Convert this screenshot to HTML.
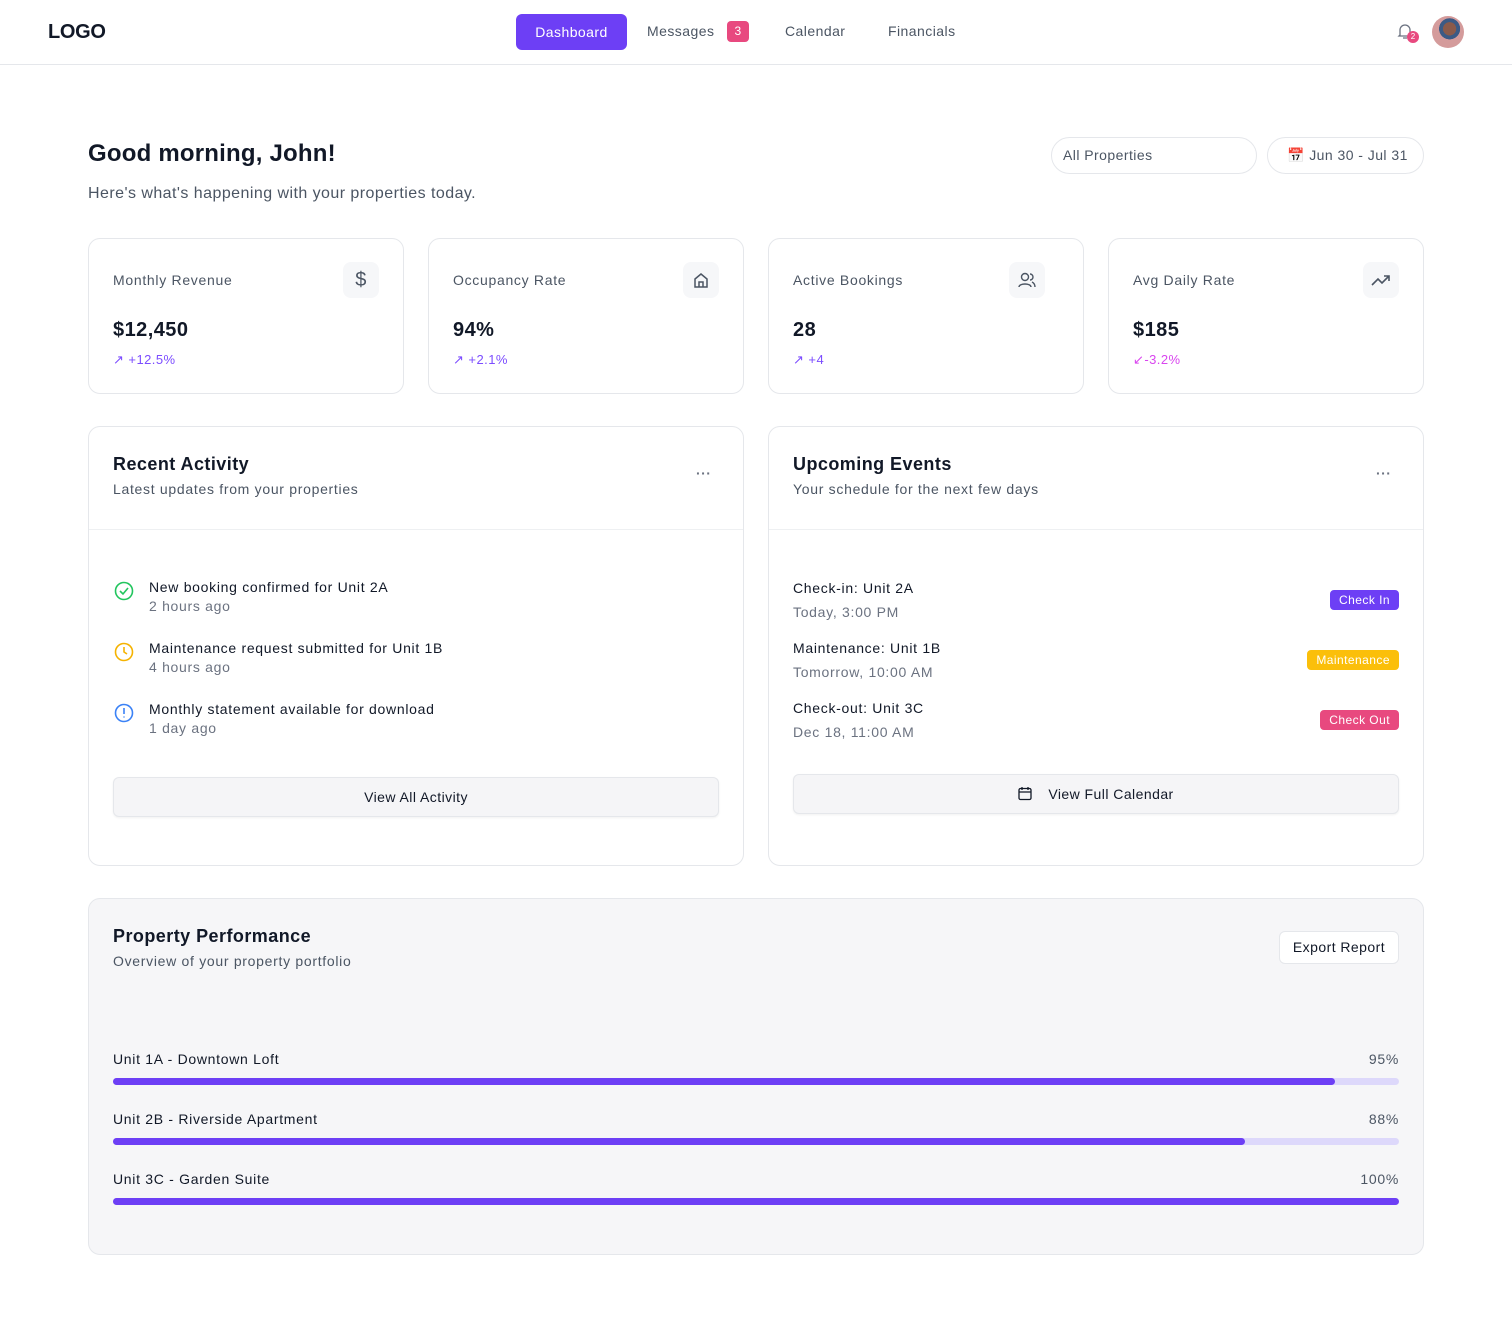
<!DOCTYPE html>
<html><head><meta charset="utf-8"><style>
*{box-sizing:border-box;margin:0;padding:0}
body{width:1512px;height:1335px;background:#fff;font-family:"Liberation Sans",sans-serif;color:#111827;position:relative;overflow:hidden;letter-spacing:0.45px}
.a{position:absolute}
.card{position:absolute;border:1px solid #e5e7eb;border-radius:12px;background:#fff}
.t14{font-size:14px;letter-spacing:0.7px}
.muted{color:#6b7280}
.ib{position:absolute;width:36px;height:36px;border-radius:8px;background:#f6f7f9;display:flex;align-items:center;justify-content:center}
.badge{position:absolute;height:20px;border-radius:4px;color:#fff;font-size:12px;line-height:20px;padding:0 9px;right:24px}
.btn{position:absolute;background:#f5f5f7;border:1px solid #e5e7eb;border-radius:6px;font-size:14px;text-align:center;box-shadow:0 1px 2px rgba(0,0,0,.06)}
</style></head><body>
<div class="a" style="left:0;top:0;width:1512px;height:65px;border-bottom:1px solid #e5e7eb"></div>
<div class="a" style="left:48px;top:21px;font-size:20px;font-weight:bold;letter-spacing:-0.3px">LOGO</div>
<div class="a" style="left:516px;top:14px;width:111px;height:36px;background:#6d3ff5;border-radius:6px;color:#fff;font-size:14px;line-height:36px;text-align:center">Dashboard</div>
<div class="a" style="left:647px;top:23px;font-size:14px;color:#4b5563">Messages</div>
<div class="a" style="left:727px;top:21px;width:22px;height:21px;background:#e8497f;border-radius:4px;color:#fff;font-size:12px;line-height:21px;text-align:center">3</div>
<div class="a" style="left:785px;top:23px;font-size:14px;color:#4b5563">Calendar</div>
<div class="a" style="left:888px;top:23px;font-size:14px;color:#4b5563">Financials</div>
<svg class="a" style="left:1397px;top:23px" width="16" height="18" viewBox="0 0 16 18"><path d="M3 12V7a5 5 0 0 1 10 0v5l1 1H2z M6 15h4" fill="none" stroke="#6b7280" stroke-width="1.3"/></svg>
<div class="a" style="left:1407px;top:31px;width:12px;height:12px;border-radius:6px;background:#e8497f;color:#fff;font-size:8px;line-height:12px;text-align:center;letter-spacing:0">2</div>
<div class="a" style="left:1432px;top:16px;width:32px;height:32px;border-radius:16px;background:radial-gradient(circle at 55% 40%,#8a5a4a 0 25%,#3b5a85 26% 40%,#d49b9b 41%)"></div>

<div class="a" style="left:88px;top:140px;font-size:24px;font-weight:bold;letter-spacing:0.2px">Good morning, John!</div>
<div class="a" style="left:88px;top:185px;font-size:16px;color:#4b5563">Here's what's happening with your properties today.</div>
<div class="a" style="left:1051px;top:137px;width:206px;height:37px;border:1px solid #e5e7eb;border-radius:19px;font-size:14px;color:#4b5563;line-height:35px;padding-left:11px">All Properties</div>
<div class="a" style="left:1267px;top:137px;width:157px;height:37px;border:1px solid #e5e7eb;border-radius:19px;font-size:14px;color:#4b5563;line-height:35px;padding-left:19px">📅 Jun 30 - Jul 31</div>

<div class="card" style="left:88px;top:238px;width:316px;height:156px">
 <div class="a t14" style="left:24px;top:33px;color:#4b5563">Monthly Revenue</div>
 <div class="ib" style="left:254px;top:23px;font-size:20px;color:#4b5563">$</div>
 <div class="a" style="left:24px;top:80px;font-size:20px;font-weight:bold">$12,450</div>
 <div class="a" style="left:24px;top:113px;font-size:13px;color:#7c4dff">↗ +12.5%</div>
</div>
<div class="card" style="left:428px;top:238px;width:316px;height:156px">
 <div class="a t14" style="left:24px;top:33px;color:#4b5563">Occupancy Rate</div>
 <div class="ib" style="left:254px;top:23px"><svg width="18" height="18" viewBox="0 0 18 18"><path d="M3 8l6-5 6 5v8H3z M7 16v-5h4v5" fill="none" stroke="#4b5563" stroke-width="1.5"/></svg></div>
 <div class="a" style="left:24px;top:80px;font-size:20px;font-weight:bold">94%</div>
 <div class="a" style="left:24px;top:113px;font-size:13px;color:#7c4dff">↗ +2.1%</div>
</div>
<div class="card" style="left:768px;top:238px;width:316px;height:156px">
 <div class="a t14" style="left:24px;top:33px;color:#4b5563">Active Bookings</div>
 <div class="ib" style="left:240px;top:23px"><svg width="20" height="18" viewBox="0 0 20 18"><circle cx="8" cy="6" r="3.5" fill="none" stroke="#4b5563" stroke-width="1.4"/><path d="M2 16c0-4 12-4 12 0M13 3a3 3 0 0 1 0 6M15 11c2 1 3 3 3 5" fill="none" stroke="#4b5563" stroke-width="1.4"/></svg></div>
 <div class="a" style="left:24px;top:80px;font-size:20px;font-weight:bold">28</div>
 <div class="a" style="left:24px;top:113px;font-size:13px;color:#7c4dff">↗ +4</div>
</div>
<div class="card" style="left:1108px;top:238px;width:316px;height:156px">
 <div class="a t14" style="left:24px;top:33px;color:#4b5563">Avg Daily Rate</div>
 <div class="ib" style="left:254px;top:23px"><svg width="20" height="14" viewBox="0 0 20 14"><path d="M1 12l6-6 4 4 7-7M13 3h5v5" fill="none" stroke="#4b5563" stroke-width="1.6"/></svg></div>
 <div class="a" style="left:24px;top:80px;font-size:20px;font-weight:bold">$185</div>
 <div class="a" style="left:24px;top:113px;font-size:13px;color:#d946ef">↙-3.2%</div>
</div>

<div class="card" style="left:88px;top:426px;width:656px;height:440px">
 <div class="a" style="left:24px;top:27px;font-size:18px;font-weight:bold">Recent Activity</div>
 <div class="a t14" style="left:24px;top:54px;color:#4b5563">Latest updates from your properties</div>
 <div class="a" style="left:607px;top:38px;color:#6b7280;font-size:14px;font-weight:bold">···</div>
 <div class="a" style="left:0;top:102px;width:654px;border-top:1px solid #eef0f2"></div>
 <svg class="a" style="left:25px;top:154px" width="20" height="20"><circle cx="10" cy="10" r="8.5" fill="none" stroke="#22c55e" stroke-width="1.6"/><path d="M6 10l3 3 5-6" fill="none" stroke="#22c55e" stroke-width="1.6"/></svg>
 <div class="a t14" style="left:60px;top:152px">New booking confirmed for Unit 2A</div>
 <div class="a t14 muted" style="left:60px;top:171px">2 hours ago</div>
 <svg class="a" style="left:25px;top:215px" width="20" height="20"><circle cx="10" cy="10" r="8.5" fill="none" stroke="#f5b301" stroke-width="1.6"/><path d="M10 5v5l3 2" fill="none" stroke="#f5b301" stroke-width="1.6"/></svg>
 <div class="a t14" style="left:60px;top:213px">Maintenance request submitted for Unit 1B</div>
 <div class="a t14 muted" style="left:60px;top:232px">4 hours ago</div>
 <svg class="a" style="left:25px;top:276px" width="20" height="20"><circle cx="10" cy="10" r="8.5" fill="none" stroke="#3b82f6" stroke-width="1.6"/><path d="M10 5v6M10 13.5v1" fill="none" stroke="#3b82f6" stroke-width="1.6"/></svg>
 <div class="a t14" style="left:60px;top:274px">Monthly statement available for download</div>
 <div class="a t14 muted" style="left:60px;top:293px">1 day ago</div>
 <div class="btn" style="left:24px;top:350px;width:606px;height:40px;line-height:38px">View All Activity</div>
</div>

<div class="card" style="left:768px;top:426px;width:656px;height:440px">
 <div class="a" style="left:24px;top:27px;font-size:18px;font-weight:bold">Upcoming Events</div>
 <div class="a t14" style="left:24px;top:54px;color:#4b5563">Your schedule for the next few days</div>
 <div class="a" style="left:607px;top:38px;color:#6b7280;font-size:14px;font-weight:bold">···</div>
 <div class="a" style="left:0;top:102px;width:654px;border-top:1px solid #eef0f2"></div>
 <div class="a t14" style="left:24px;top:153px">Check-in: Unit 2A</div>
 <div class="a t14 muted" style="left:24px;top:177px">Today, 3:00 PM</div>
 <div class="badge" style="top:163px;background:#6d3ff5">Check In</div>
 <div class="a t14" style="left:24px;top:213px">Maintenance: Unit 1B</div>
 <div class="a t14 muted" style="left:24px;top:237px">Tomorrow, 10:00 AM</div>
 <div class="badge" style="top:223px;background:#fbbf0a">Maintenance</div>
 <div class="a t14" style="left:24px;top:273px">Check-out: Unit 3C</div>
 <div class="a t14 muted" style="left:24px;top:297px">Dec 18, 11:00 AM</div>
 <div class="badge" style="top:283px;background:#e8497f">Check Out</div>
 <div class="btn" style="left:24px;top:347px;width:606px;height:40px;line-height:38px"><svg style="vertical-align:-2px;margin-right:16px" width="14" height="15" viewBox="0 0 14 15"><rect x="1" y="2.5" width="12" height="11" rx="1.5" fill="none" stroke="#111827" stroke-width="1.3"/><path d="M1 6h12M4 1v3M10 1v3" stroke="#111827" stroke-width="1.3"/></svg>View Full Calendar</div>
</div>

<div class="a" style="left:88px;top:898px;width:1336px;height:357px;border:1px solid #e5e7eb;border-radius:12px;background:#f6f6f8">
 <div class="a" style="left:24px;top:27px;font-size:18px;font-weight:bold">Property Performance</div>
 <div class="a t14" style="left:24px;top:54px;color:#4b5563">Overview of your property portfolio</div>
 <div class="a" style="left:1190px;top:32px;width:120px;height:33px;border:1px solid #e5e7eb;border-radius:6px;background:#fff;font-size:14px;line-height:31px;text-align:center">Export Report</div>
 <div id="bars"></div>
</div>
<script>
const units=["Unit 1A - Downtown Loft","Unit 2B - Riverside Apartment","Unit 3C - Garden Suite"];
const occupancy=[95,88,100];
const host=document.getElementById('bars');
const trackW=1286;
function xs(v){return trackW*v/100;}
units.forEach((u,i)=>{
  const top=152+i*60;
  const lab=document.createElement('div');
  lab.className='a t14';lab.style.left='24px';lab.style.top=top+'px';lab.textContent=u;
  
  
  host.appendChild(lab);
  const val=document.createElement('div');
  val.className='a t14';val.style.right='24px';val.style.top=top+'px';val.style.color='#4b5563';val.textContent=occupancy[i]+'%';
  
  
  host.appendChild(val);
  const tr=document.createElement('div');
  tr.className='a';tr.style.cssText='left:24px;top:'+(top+27)+'px;width:'+trackW+'px;height:7px;border-radius:4px;background:#ddd8fb';
  
  
  const b=document.createElement('div');
  b.style.cssText='height:7px;border-radius:4px;background:#6d3ff5;width:'+xs(occupancy[i])+'px';
  
  
  tr.appendChild(b);host.appendChild(tr);
});
</script>
</body></html>
